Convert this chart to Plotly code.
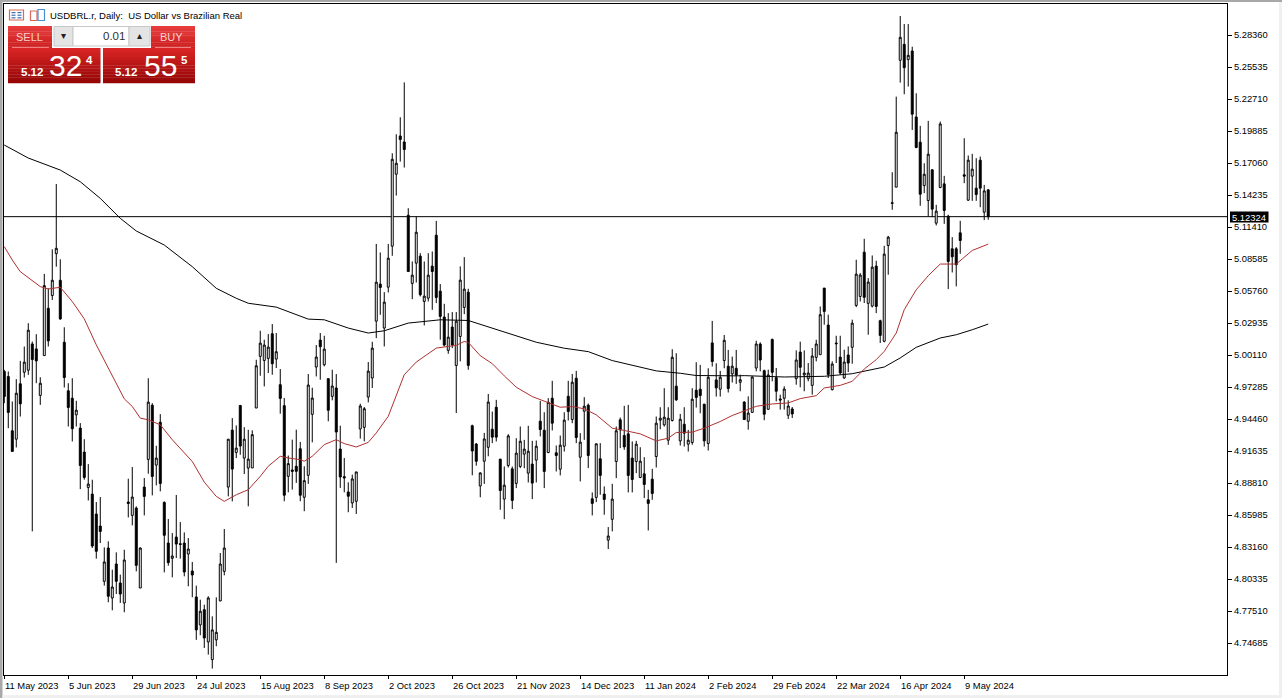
import plotly.graph_objects as go

bar_index = list(range(-1, 246))

opens = [4.9866,4.9821,4.9342,4.9268,4.9757,4.9859,4.9877,5.0109,5.0065,4.9654,5.0006,
5.0424,5.0536,5.0906,5.0671,5.0124,4.9695,4.9630,4.9483,4.9366,4.9154,
4.8842,4.8783,4.8607,4.8501,4.8013,4.8307,4.7866,4.8166,4.7998,4.7822,
4.8713,4.8595,4.8660,4.7954,4.8845,4.9089,4.9568,4.9039,4.9418,4.8710,
4.8351,4.8216,4.8404,4.8345,4.8351,4.8254,4.8104,4.7875,4.7628,4.7763,
4.7478,4.7322,4.7496,4.7840,4.8101,4.8845,4.9348,4.9151,4.9565,4.9101,
4.9013,4.9014,4.9543,4.9999,4.9963,4.9981,5.0199,4.9975,4.9749,4.9564,
4.8940,4.8996,4.9029,4.9184,4.8755,4.8949,4.9487,4.9905,5.0143,4.9925,
4.9802,4.9646,4.9720,4.9181,4.8937,4.8802,4.8705,4.8720,4.9358,4.9372,
4.9640,4.9808,5.0310,5.0637,5.0249,5.0610,5.0972,5.1607,5.1945,5.1892,
5.1245,5.0643,5.0822,5.0884,5.0484,5.0513,5.0796,5.1069,5.0575,5.0346,
5.0052,5.0258,4.9919,5.0175,5.0431,5.0566,4.9387,4.9225,4.8855,4.9073,
4.9196,4.9356,4.9550,4.9092,4.8739,4.9036,4.9006,4.8877,4.9027,4.9136,
4.8968,4.9048,4.9083,4.9427,4.9347,4.9150,4.9630,4.9148,4.9003,4.9206,
4.9647,4.9442,4.9806,4.9109,4.9515,4.9568,4.8742,4.8754,4.9095,4.8783,
4.8377,4.8560,4.9071,4.9439,4.9300,4.9315,4.9101,4.9071,4.8930,4.8962,
4.8733,4.8915,4.9115,4.9436,4.9394,4.9259,4.9433,4.9736,4.9253,4.9400,
4.9224,4.9239,4.9700,4.9709,4.9577,4.9230,5.0118,4.9791,4.9709,4.9962,
4.9912,4.9844,4.9894,4.9770,4.9596,4.9426,4.9505,4.9896,5.0108,4.9873,
4.9532,5.0149,4.9811,4.9623,4.9629,4.9479,4.9535,4.9802,5.0037,4.9835,
4.9802,4.9743,4.9990,5.0014,5.0602,5.0276,4.9705,5.0117,4.9993,4.9808,
5.0011,5.0079,5.0449,5.0528,5.0919,5.0467,5.0443,5.0796,5.0314,5.0132,
5.0978,5.1349,5.1493,5.2613,5.2754,5.2619,5.2695,5.2113,5.1890,5.1507,
5.1375,5.1646,5.1175,5.1490,5.1522,5.1237,5.0949,5.0949,5.1090,5.1602,
5.1378,5.1590,5.1484,5.1731,5.1272,5.1469]

highs = [4.9880,4.9866,4.9601,4.9798,4.9959,5.0086,5.0292,5.0130,5.0195,4.9815,5.0727,
5.0600,5.0944,5.1521,5.0856,5.0256,4.9762,4.9806,4.9607,4.9410,4.9268,
4.9048,4.8910,4.8713,4.8757,4.8313,4.8366,4.8116,4.8269,4.8072,4.8292,
4.8919,4.9022,4.8675,4.8313,4.8925,4.9806,4.9586,4.9210,4.9489,4.8719,
4.8563,4.8439,4.8775,4.8536,4.8445,4.8395,4.8184,4.7975,4.7851,4.7807,
4.7881,4.7704,4.7872,4.8263,4.8475,4.9268,4.9454,4.9389,4.9571,4.9374,
4.9351,4.9346,4.9969,5.0225,5.0146,5.0196,5.0284,5.0205,4.9887,4.9631,
4.9123,4.9264,4.9352,4.9243,4.9029,4.9843,4.9722,5.0099,5.0205,5.0181,
4.9808,4.9881,4.9843,4.9387,4.9102,4.8887,4.8955,4.8979,4.9581,4.9552,
4.9949,5.0128,5.0992,5.0916,5.0566,5.0992,5.1792,5.1960,5.2110,5.2418,
5.1307,5.0837,5.1234,5.0910,5.0837,5.0910,5.0925,5.1195,5.0637,5.0463,
5.0381,5.0390,5.0390,5.0793,5.0875,5.0596,4.9396,4.9234,4.8976,4.9323,
4.9667,4.9512,4.9615,4.9092,4.9027,4.9312,4.9027,4.9277,4.9380,4.9262,
4.9386,4.9253,4.9256,4.9606,4.9506,4.9630,4.9783,4.9212,4.9300,4.9506,
4.9783,4.9844,4.9871,4.9321,4.9639,4.9583,4.8798,4.9230,4.9233,4.8851,
4.8492,4.8874,4.9380,4.9459,4.9562,4.9571,4.9248,4.9253,4.9197,4.9109,
4.8821,4.9006,4.9468,4.9550,4.9718,4.9550,5.0062,5.0027,4.9491,4.9550,
4.9350,4.9718,4.9947,4.9924,4.9580,4.9894,5.0312,4.9938,4.9871,5.0188,
5.0056,4.9997,5.0056,4.9838,4.9602,4.9646,4.9823,5.0137,5.0123,4.9882,
4.9882,5.0155,4.9896,4.9661,4.9735,4.9611,4.9552,5.0052,5.0129,5.0052,
4.9940,5.0073,5.0146,5.0440,5.0602,5.0367,4.9955,5.0181,5.0181,5.0058,
5.0087,5.0323,5.0852,5.0734,5.1037,5.0690,5.0890,5.0843,5.0323,5.0975,
5.1063,5.1625,5.2292,5.3004,5.2933,5.2933,5.2733,5.2322,5.2034,5.1704,
5.2078,5.1652,5.1337,5.2072,5.1593,5.1249,5.1052,5.0964,5.1196,5.1925,
5.1772,5.1787,5.1749,5.1763,5.1513,5.1475]

lows = [4.9586,4.9365,4.9160,4.9195,4.9468,4.9812,4.9836,4.8454,4.9762,4.9571,5.0006,
5.0086,5.0497,5.0791,5.0321,4.9724,4.9380,4.9248,4.9380,4.8827,4.8910,
4.8727,4.8307,4.8213,4.8351,4.7975,4.7828,4.7757,4.7901,4.7822,4.7740,
4.8577,4.8507,4.8101,4.7954,4.8595,4.8963,4.8772,4.8860,4.8807,4.8092,
4.8151,4.8048,4.8219,4.8213,4.8057,4.7969,4.7872,4.7496,4.7537,4.7425,
4.7366,4.7243,4.7440,4.7837,4.8066,4.8763,4.8719,4.9101,4.9130,4.8960,
4.8675,4.9014,4.9543,4.9828,4.9734,4.9852,4.9837,4.9896,4.9493,4.8720,
4.8799,4.8823,4.8882,4.8720,4.8632,4.8873,4.9240,4.9822,4.9793,4.9911,
4.9426,4.9611,4.8176,4.8838,4.8799,4.8623,4.8661,4.8608,4.9273,4.9249,
4.9593,4.9720,5.0160,5.0366,5.0087,5.0563,5.0887,5.1419,5.1719,5.1666,
5.0748,5.0504,5.0651,5.0528,5.0272,5.0484,5.0410,5.0469,5.0146,5.0087,
5.0022,5.0072,4.9499,4.9955,5.0372,4.9881,4.8949,4.9034,4.8755,4.8873,
4.9117,4.9233,4.9248,4.8645,4.8562,4.9018,4.8651,4.8836,4.9012,4.9012,
4.8886,4.8739,4.8886,4.9292,4.8836,4.9145,4.9345,4.8983,4.8948,4.9159,
4.9433,4.9409,4.9233,4.8895,4.9262,4.9012,4.8595,4.8712,4.8777,4.8601,
4.8298,4.8454,4.8924,4.9189,4.9174,4.8798,4.8798,4.8968,4.8924,4.8748,
4.8462,4.8733,4.9018,4.9356,4.9380,4.9218,4.9424,4.9606,4.9212,4.9203,
4.9159,4.9218,4.9547,4.9497,4.9203,4.9168,4.9909,4.9644,4.9644,4.9894,
4.9680,4.9768,4.9756,4.9691,4.9441,4.9352,4.9499,4.9867,4.9867,4.9435,
4.9529,4.9779,4.9602,4.9529,4.9529,4.9446,4.9455,4.9749,4.9726,4.9691,
4.9779,4.9661,4.9955,5.0014,5.0279,4.9808,4.9699,4.9940,4.9838,4.9802,
4.9861,4.9934,5.0434,5.0484,5.0470,5.0190,5.0431,5.0381,5.0117,5.0123,
5.0720,5.1293,5.1493,5.2416,5.2313,5.2381,5.1998,5.1837,5.1328,5.1440,
5.1234,5.1228,5.1155,5.1484,5.1169,5.0593,5.0740,5.0617,5.0905,5.1528,
5.1372,5.1372,5.1372,5.1316,5.1202,5.1205]

closes = [4.9645,4.9504,4.9160,4.9674,4.9580,4.9948,5.0230,4.9971,4.9959,4.9762,5.0624,
5.0136,5.0671,5.0953,5.0330,4.9812,4.9548,4.9360,4.9524,4.9036,4.8930,
4.8872,4.8325,4.8278,4.8454,4.8184,4.7881,4.7963,4.8013,4.7901,4.8201,
4.8701,4.8757,4.8154,4.8307,4.8763,4.9595,4.8939,4.9101,4.8877,4.8419,
4.8178,4.8237,4.8342,4.8339,4.8095,4.8298,4.8069,4.7584,4.7749,4.7513,
4.7866,4.7584,4.7563,4.8166,4.8307,4.9268,4.9004,4.9189,4.9207,4.9268,
4.9092,4.9308,4.9916,5.0116,5.0099,5.0081,4.9934,5.0040,4.9628,4.8773,
4.9052,4.8984,4.8984,4.8773,4.8902,4.9746,4.9631,4.9993,5.0084,5.0063,
4.9523,4.9737,4.9331,4.8934,4.8926,4.8764,4.8917,4.8979,4.9561,4.9537,
4.9869,5.0072,5.0654,5.0607,5.0478,5.0866,5.1739,5.1704,5.1913,5.1825,
5.0748,5.0716,5.1095,5.0543,5.0531,5.0716,5.0748,5.0519,5.0352,5.0099,
5.0169,5.0099,5.0310,5.0672,5.0593,4.9919,4.9164,4.9073,4.8970,4.9270,
4.9596,4.9286,4.9286,4.8815,4.8862,4.9297,4.8727,4.9145,4.9250,4.9180,
4.9162,4.8880,4.9206,4.9353,4.8983,4.9594,4.9409,4.9124,4.9215,4.9436,
4.9512,4.9771,4.9283,4.9242,4.9559,4.9124,4.8701,4.9227,4.8948,4.8736,
4.8413,4.8739,4.9342,4.9350,4.9200,4.8948,4.8912,4.9224,4.9074,4.8868,
4.8701,4.8789,4.9409,4.9453,4.9462,4.9453,4.9991,4.9615,4.9444,4.9321,
4.9259,4.9621,4.9636,4.9653,4.9253,4.9815,4.9953,4.9721,4.9815,5.0141,
4.9715,4.9912,4.9833,4.9793,4.9441,4.9499,4.9817,5.0108,4.9967,4.9488,
4.9835,4.9858,4.9691,4.9614,4.9711,4.9561,4.9491,4.9967,4.9902,4.9852,
4.9852,5.0002,5.0108,5.0367,5.0396,4.9838,4.9932,5.0111,4.9852,4.9949,
4.9940,5.0293,5.0725,5.0717,5.0520,5.0655,5.0787,5.0440,5.0184,5.0902,
5.1052,5.1355,5.1978,5.2816,5.2548,5.2657,5.2137,5.1843,5.1431,5.1607,
5.1784,5.1299,5.1281,5.2051,5.1287,5.0837,5.0878,5.0808,5.1022,5.1590,
5.1731,5.1652,5.1428,5.1484,5.1460,5.12324]

ma_fast_bars = [-1,1,3,5,8,10,13,16,19,22,25,27,29,31,33,35,38,41,46,49,52,54,57,60,
63,65,68,70,73,74,76,79,82,84,87,90,92,95,97,99,102,105,107,110,112,114,115,118,121,
124,127,131,135,138,141,144,147,151,154,158,162,165,167,171,174,178,181,183,
187,191,195,198,202,204,208,211,214,217,219,222,224,227,230,233,237,241,245]
ma_fast = [5.0968,5.0850,5.0747,5.0697,5.0615,5.0594,5.0609,5.0483,5.0330,5.0101,4.9895,4.9748,4.9624,4.9557,4.9454,4.9439,4.9395,4.9263,4.9071,4.8889,4.8763,4.8719,4.8777,4.8822,
4.8940,4.9029,4.9117,4.9102,4.9087,4.9073,4.9117,4.9220,4.9264,4.9229,4.9199,4.9240,4.9323,4.9470,4.9661,4.9837,4.9949,5.0022,5.0072,5.0087,5.0096,5.0131,5.0122,5.0005,4.9935,
4.9827,4.9727,4.9644,4.9591,4.9550,4.9556,4.9536,4.9483,4.9365,4.9345,4.9315,4.9253,4.9277,4.9327,4.9330,4.9365,4.9424,4.9477,4.9506,
4.9558,4.9579,4.9588,4.9626,4.9652,4.9720,4.9743,4.9779,4.9887,4.9970,5.0043,5.0205,5.0411,5.0587,5.0711,5.0814,5.0814,5.0934,5.0990]

ma_slow_bars = [-1,5,13,18,23,28,32,39,46,52,57,60,67,75,79,85,90,94,100,108,115,121,
127,132,139,145,151,157,162,168,172,182,184,194,204,211,219,223,227,233,237,241,245]
ma_slow = [5.1865,5.1750,5.1644,5.1541,5.1394,5.1218,5.1106,5.0982,5.0791,5.0600,5.0512,5.0468,5.0434,5.0328,5.0322,5.0249,5.0205,5.0225,5.0293,5.0322,5.0316,5.0248,
5.0174,5.0124,5.0071,5.0041,4.9962,4.9915,4.9871,4.9850,4.9830,4.9827,4.9829,4.9817,4.9823,4.9846,4.9905,4.9985,5.0079,5.0161,5.0190,5.0234,5.0284]

current_price = 5.12324
y_ticks = [5.28360,5.25535,5.22710,5.19885,5.17060,5.14235,5.11410,5.08585,5.05760,5.02935,5.00110,
           4.97285,4.94460,4.91635,4.88810,4.85985,4.83160,4.80335,4.77510,4.74685]
date_tick_bars = [-1,15,31,47,63,79,95,111,127,143,159,175,191,207,223,239]
date_labels = ["11 May 2023","5 Jun 2023","29 Jun 2023","24 Jul 2023","15 Aug 2023","8 Sep 2023","2 Oct 2023",
               "26 Oct 2023","21 Nov 2023","14 Dec 2023","11 Jan 2024","2 Feb 2024","29 Feb 2024","22 Mar 2024",
               "16 Apr 2024","9 May 2024"]
chart_title = "USDBRL.r, Daily:  US Dollar vs Brazilian Real"

W, H = 1282, 698
L, R, T, B = 4, 1227, 4, 675
FONT = "Liberation Sans"

def px(x): return (x - L) / (R - L)
def py(y): return 1 - (y - T) / (B - T)

shapes, notes = [], []

def rect(x0, y0, x1, y1, fill, line=None, lw=1):
    shapes.append(dict(type="rect", xref="paper", yref="paper", x0=px(x0), x1=px(x1), y0=py(y0), y1=py(y1),
                       fillcolor=fill, line=dict(color=line or fill, width=lw if line else 0), layer="above"))

def grad(x0, y0, x1, y1, c0, c1, n=12):
    h = (y1 - y0) / n
    for k in range(n):
        t = k / (n - 1)
        c = tuple(round(a + (b - a) * t) for a, b in zip(c0, c1))
        rect(x0, y0 + k * h, x1, y0 + (k + 1) * h + 0.3, "rgb(%d,%d,%d)" % c)

def text(x, y, s, size, color="#000000", anchor="left", bold=False, font=FONT):
    notes.append(dict(xref="paper", yref="paper", x=px(x), y=py(y), text=("<b>%s</b>" % s) if bold else s,
                      showarrow=False, xanchor=anchor, yanchor="middle", borderpad=0, borderwidth=0,
                      font=dict(family=font, size=size, color=color)))

# window bezel
rect(0, 0, 1282, 2, "#A8A8A8")
rect(0, 0, 2.5, 698, "#A8A8A8")
rect(1279, 2, 1282, 698, "#F0F0F0")
rect(2.5, 695, 1282, 698, "#F0F0F0")

# date labels, left-aligned on their ticks
for b, s in zip(date_tick_bars, date_labels):
    notes.append(dict(xref="x", yref="paper", x=b, y=py(685), text=s, showarrow=False, xanchor="left",
                      yanchor="middle", xshift=-1, font=dict(family=FONT, size=9.4, color="#000000")))

# chart-window icons and title
rect(9.5, 10, 23.5, 20, "#FFFFFF", "#D9665A", 1.2)
rect(11.5, 12, 15.5, 13.2, "#3A6EB5"); rect(17.5, 12, 21.5, 13.2, "#3A6EB5")
rect(11.5, 14.6, 15.5, 15.8, "#3A6EB5"); rect(17.5, 14.6, 21.5, 15.8, "#3A6EB5")
rect(11.5, 17.2, 15.5, 18.4, "#3A6EB5"); rect(17.5, 17.2, 21.5, 18.4, "#3A6EB5")
rect(30.5, 11, 37, 20.5, "#FFFFFF", "#D9665A", 1.2)
rect(38, 9.5, 44.5, 20.5, "#FFFFFF", "#4A90D0", 1.2)
text(50, 15, chart_title, 9.5)

# one-click trading panel
grad(8, 26, 52, 48, (230, 60, 60), (205, 30, 30))
rect(12, 47, 49, 48, "#F08080")
grad(151, 26, 195, 48, (230, 60, 60), (205, 30, 30))
rect(155, 47, 191, 48, "#F08080")
grad(8, 48, 100.5, 83, (216, 36, 36), (150, 6, 6))
grad(103, 48, 195, 83, (216, 36, 36), (150, 6, 6))
rect(54, 26.5, 73, 46, "#E4E4E4", "#C8C8C8", 1)
rect(73, 26.5, 129, 46, "#FFFFFF", "#C8C8C8", 1)
rect(129, 26.5, 150, 46, "#E4E4E4", "#C8C8C8", 1)
text(29, 36.5, "SELL", 11, "#F8CFCF", "center")
text(172, 36.5, "BUY", 11, "#F8CFCF", "center")
text(125, 36, "0.01", 11.5, "#303030", "right")
text(63.5, 35.5, "▾", 10, "#202020", "center", font="DejaVu Sans")
text(139, 35.5, "▴", 10, "#202020", "center", font="DejaVu Sans")
text(21, 72, "5.12", 11.5, "#FFFFFF", bold=True)
text(48.5, 65.5, "32", 30, "#FFFFFF")
text(85.5, 60, "4", 11.5, "#FFFFFF", bold=True)
text(115, 72, "5.12", 11.5, "#FFFFFF", bold=True)
text(143.5, 65.5, "55", 30, "#FFFFFF")
text(180.5, 60, "5", 11.5, "#FFFFFF", bold=True)

# current-price tag
rect(1230, 211.5, 1268.5, 222.5, "#000000")
text(1249.3, 217, "%.5f" % current_price, 9.4, "#FFFFFF", "center")

# current-price line
shapes.append(dict(type="line", xref="paper", yref="y", x0=0, x1=1, y0=current_price, y1=current_price,
                   line=dict(color="#000000", width=1), layer="below"))

fig = go.Figure()
fig.add_trace(go.Scatter(x=ma_slow_bars, y=ma_slow, mode="lines", line=dict(color="#000000", width=1), showlegend=False))
fig.add_trace(go.Scatter(x=ma_fast_bars, y=ma_fast, mode="lines", line=dict(color="#B03030", width=1), showlegend=False))
fig.add_trace(go.Candlestick(
    x=bar_index, open=opens, high=highs, low=lows, close=closes, whiskerwidth=0,
    increasing=dict(line=dict(color="#000000", width=1), fillcolor="#FFFFFF"),
    decreasing=dict(line=dict(color="#000000", width=1), fillcolor="#000000"),
    showlegend=False))

axis_font = dict(family=FONT, size=9.4, color="#000000")
fig.update_layout(
    width=W, height=H, paper_bgcolor="#FFFFFF", plot_bgcolor="#FFFFFF",
    margin=dict(l=L, r=W - R, t=T, b=H - B, autoexpand=False),
    shapes=shapes, annotations=notes, showlegend=False, boxgap=0.3,
    xaxis=dict(range=[-1.07, 304.7], rangeslider=dict(visible=False), showgrid=False, zeroline=False,
               showline=True, mirror=True, linecolor="#000000", linewidth=1,
               tickmode="array", tickvals=date_tick_bars, ticktext=[""] * len(date_tick_bars),
               ticks="outside", ticklen=3, tickcolor="#000000", tickwidth=1),
    yaxis=dict(range=[4.7186, 5.3110], side="right", showgrid=False, zeroline=False,
               showline=True, mirror=True, linecolor="#000000", linewidth=1,
               tickmode="array", tickvals=y_ticks, ticktext=["%.5f" % v for v in y_ticks],
               ticks="outside", ticklen=4, tickcolor="#000000", tickwidth=1, tickfont=axis_font),
)
fig.write_html("out.html", config=dict(displayModeBar=False),
               post_script="document.body.style.margin='0';document.body.style.overflow='hidden';")
